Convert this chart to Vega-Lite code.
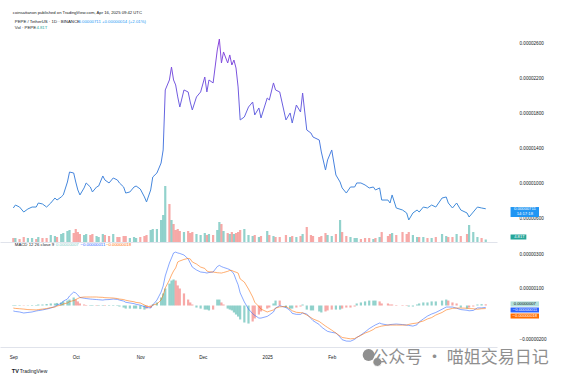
{
  "$schema": "https://vega.github.io/schema/vega-lite/v6.json",
  "padding": 0,
  "background": "white",
  "spacing": 0,
  "config": {
    "view": {"stroke": null},
    "font": "Liberation Sans",
    "axis": {"labelFontSize": 4.6, "labelColor": "#131722", "grid": false, "ticks": false, "labelOverlap": false},
    "axisY": {"labelOverlap": false},
    "axisRight": {"labelOverlap": false},
    "axisQuantitative": {"labelOverlap": false}
  },
  "datasets": {
    "pepe": [
      {"date":"2024-09-01","close":0.00000720,"vol_T":7.7,"candle":"down","macd":-0.00000032,"signal":-0.00000015,"hist":-0.00000003,"hist_state":"neg_down"},
      {"date":"2024-09-02","close":0.00000754,"vol_T":7.7,"candle":"up","macd":-0.00000035,"signal":-0.00000017,"hist":-0.00000003,"hist_state":"neg_down"},
      {"date":"2024-09-04","close":0.00000731,"vol_T":5.8,"candle":"down","macd":-0.00000038,"signal":-0.00000019,"hist":-0.00000003,"hist_state":"neg_down"},
      {"date":"2024-09-06","close":0.00000674,"vol_T":9.6,"candle":"down","macd":-0.00000044,"signal":-0.00000021,"hist":-0.00000002,"hist_state":"neg_up"},
      {"date":"2024-09-08","close":0.00000709,"vol_T":7.7,"candle":"up","macd":-0.00000041,"signal":-0.00000024,"hist":0.00000002,"hist_state":"pos_up"},
      {"date":"2024-09-10","close":0.00000731,"vol_T":7.7,"candle":"up","macd":-0.00000038,"signal":-0.00000025,"hist":0.00000003,"hist_state":"pos_up"},
      {"date":"2024-09-12","close":0.00000731,"vol_T":5.8,"candle":"down","macd":-0.00000032,"signal":-0.00000026,"hist":0.00000003,"hist_state":"pos_up"},
      {"date":"2024-09-13","close":0.00000777,"vol_T":9.6,"candle":"up","macd":-0.00000030,"signal":-0.00000024,"hist":0.00000006,"hist_state":"pos_up"},
      {"date":"2024-09-15","close":0.00000766,"vol_T":7.7,"candle":"down","macd":-0.00000026,"signal":-0.00000021,"hist":0.00000006,"hist_state":"pos_up"},
      {"date":"2024-09-17","close":0.00000731,"vol_T":7.7,"candle":"down","macd":-0.00000021,"signal":-0.00000018,"hist":0.00000009,"hist_state":"pos_up"},
      {"date":"2024-09-19","close":0.00000777,"vol_T":13.5,"candle":"up","macd":-0.00000015,"signal":-0.00000012,"hist":0.00000012,"hist_state":"pos_up"},
      {"date":"2024-09-21","close":0.00000834,"vol_T":11.5,"candle":"up","macd":-0.00000006,"signal":-0.00000009,"hist":0.00000012,"hist_state":"pos_up"},
      {"date":"2024-09-22","close":0.00000811,"vol_T":9.6,"candle":"down","macd":0.00000003,"signal":-0.00000003,"hist":0.00000015,"hist_state":"pos_up"},
      {"date":"2024-09-24","close":0.00000846,"vol_T":15.4,"candle":"up","macd":0.00000012,"signal":0.00000003,"hist":0.00000018,"hist_state":"pos_up"},
      {"date":"2024-09-25","close":0.00000869,"vol_T":17.3,"candle":"up","macd":0.00000026,"signal":0.00000009,"hist":0.00000024,"hist_state":"pos_up"},
      {"date":"2024-09-27","close":0.00001017,"vol_T":21.2,"candle":"up","macd":0.00000038,"signal":0.00000015,"hist":0.00000029,"hist_state":"pos_up"},
      {"date":"2024-09-28","close":0.00001131,"vol_T":23.1,"candle":"up","macd":0.00000056,"signal":0.00000023,"hist":0.00000035,"hist_state":"pos_up"},
      {"date":"2024-09-30","close":0.00001120,"vol_T":17.3,"candle":"down","macd":0.00000079,"signal":0.00000029,"hist":0.00000047,"hist_state":"pos_up"},
      {"date":"2024-10-01","close":0.00001017,"vol_T":25.0,"candle":"down","macd":0.00000074,"signal":0.00000035,"hist":0.00000035,"hist_state":"pos_down"},
      {"date":"2024-10-02","close":0.00000926,"vol_T":19.2,"candle":"down","macd":0.00000062,"signal":0.00000041,"hist":0.00000024,"hist_state":"pos_down"},
      {"date":"2024-10-03","close":0.00000869,"vol_T":15.4,"candle":"down","macd":0.00000047,"signal":0.00000047,"hist":0.00000012,"hist_state":"pos_down"},
      {"date":"2024-10-05","close":0.00000949,"vol_T":13.5,"candle":"up","macd":0.00000043,"signal":0.00000050,"hist":0.00000006,"hist_state":"pos_down"},
      {"date":"2024-10-06","close":0.00001006,"vol_T":15.4,"candle":"up","macd":0.00000041,"signal":0.00000050,"hist":0.00000003,"hist_state":"pos_down"},
      {"date":"2024-10-08","close":0.00000960,"vol_T":13.5,"candle":"down","macd":0.00000038,"signal":0.00000050,"hist":-0.00000003,"hist_state":"neg_down"},
      {"date":"2024-10-09","close":0.00000903,"vol_T":15.4,"candle":"down","macd":0.00000037,"signal":0.00000050,"hist":0.00000003,"hist_state":"pos_up"},
      {"date":"2024-10-11","close":0.00000960,"vol_T":11.5,"candle":"up","macd":0.00000035,"signal":0.00000050,"hist":0.00000003,"hist_state":"pos_down"},
      {"date":"2024-10-12","close":0.00000971,"vol_T":9.6,"candle":"up","macd":0.00000034,"signal":0.00000049,"hist":-0.00000003,"hist_state":"neg_down"},
      {"date":"2024-10-14","close":0.00001086,"vol_T":15.4,"candle":"up","macd":0.00000032,"signal":0.00000048,"hist":0.00000003,"hist_state":"pos_up"},
      {"date":"2024-10-15","close":0.00001040,"vol_T":13.5,"candle":"down","macd":0.00000034,"signal":0.00000046,"hist":0.00000003,"hist_state":"pos_down"},
      {"date":"2024-10-17","close":0.00001006,"vol_T":11.5,"candle":"down","macd":0.00000035,"signal":0.00000045,"hist":-0.00000003,"hist_state":"neg_down"},
      {"date":"2024-10-19","close":0.00001063,"vol_T":15.4,"candle":"up","macd":0.00000038,"signal":0.00000044,"hist":0.00000003,"hist_state":"pos_up"},
      {"date":"2024-10-21","close":0.00001040,"vol_T":9.6,"candle":"down","macd":0.00000036,"signal":0.00000041,"hist":-0.00000003,"hist_state":"neg_down"},
      {"date":"2024-10-22","close":0.00001006,"vol_T":9.6,"candle":"down","macd":0.00000032,"signal":0.00000038,"hist":-0.00000006,"hist_state":"neg_down"},
      {"date":"2024-10-24","close":0.00000960,"vol_T":11.5,"candle":"down","macd":0.00000026,"signal":0.00000035,"hist":-0.00000012,"hist_state":"neg_down"},
      {"date":"2024-10-25","close":0.00000891,"vol_T":11.5,"candle":"down","macd":0.00000019,"signal":0.00000031,"hist":-0.00000018,"hist_state":"neg_down"},
      {"date":"2024-10-27","close":0.00000903,"vol_T":7.7,"candle":"up","macd":0.00000015,"signal":0.00000026,"hist":-0.00000018,"hist_state":"neg_down"},
      {"date":"2024-10-29","close":0.00000960,"vol_T":9.6,"candle":"up","macd":0.00000011,"signal":0.00000022,"hist":-0.00000018,"hist_state":"neg_down"},
      {"date":"2024-10-30","close":0.00000971,"vol_T":7.7,"candle":"up","macd":0.00000007,"signal":0.00000018,"hist":-0.00000018,"hist_state":"neg_down"},
      {"date":"2024-11-01","close":0.00000937,"vol_T":9.6,"candle":"down","macd":0.00000002,"signal":0.00000015,"hist":-0.00000021,"hist_state":"neg_down"},
      {"date":"2024-11-03","close":0.00000846,"vol_T":11.5,"candle":"down","macd":-0.00000007,"signal":0.00000003,"hist":-0.00000024,"hist_state":"neg_down"},
      {"date":"2024-11-04","close":0.00000789,"vol_T":13.5,"candle":"down","macd":-0.00000011,"signal":-0.00000003,"hist":-0.00000018,"hist_state":"neg_up"},
      {"date":"2024-11-06","close":0.00000926,"vol_T":23.1,"candle":"up","macd":-0.00000015,"signal":-0.00000009,"hist":-0.00000012,"hist_state":"neg_up"},
      {"date":"2024-11-07","close":0.00001074,"vol_T":25.0,"candle":"up","macd":0.00000003,"signal":0.00000003,"hist":0.00000006,"hist_state":"pos_up"},
      {"date":"2024-11-09","close":0.00001120,"vol_T":25.0,"candle":"up","macd":0.00000032,"signal":0.00000009,"hist":0.00000018,"hist_state":"pos_up"},
      {"date":"2024-11-11","close":0.00001234,"vol_T":42.3,"candle":"up","macd":0.00000079,"signal":0.00000032,"hist":0.00000047,"hist_state":"pos_up"},
      {"date":"2024-11-12","close":0.00001383,"vol_T":51.9,"candle":"up","macd":0.00000115,"signal":0.00000062,"hist":0.00000071,"hist_state":"pos_up"},
      {"date":"2024-11-13","close":0.00002069,"vol_T":107.7,"candle":"up","macd":0.00000174,"signal":0.00000103,"hist":0.00000100,"hist_state":"pos_up"},
      {"date":"2024-11-15","close":0.00002183,"vol_T":73.1,"candle":"down","macd":0.00000250,"signal":0.00000150,"hist":0.00000129,"hist_state":"pos_up"},
      {"date":"2024-11-16","close":0.00002331,"vol_T":42.3,"candle":"up","macd":0.00000279,"signal":0.00000179,"hist":0.00000147,"hist_state":"pos_up"},
      {"date":"2024-11-17","close":0.00002183,"vol_T":34.6,"candle":"down","macd":0.00000309,"signal":0.00000203,"hist":0.00000153,"hist_state":"pos_up"},
      {"date":"2024-11-18","close":0.00002126,"vol_T":23.1,"candle":"down","macd":0.00000314,"signal":0.00000221,"hist":0.00000147,"hist_state":"pos_down"},
      {"date":"2024-11-19","close":0.00001989,"vol_T":25.0,"candle":"down","macd":0.00000309,"signal":0.00000256,"hist":0.00000118,"hist_state":"pos_down"},
      {"date":"2024-11-20","close":0.00001874,"vol_T":21.2,"candle":"down","macd":0.00000306,"signal":0.00000262,"hist":0.00000100,"hist_state":"pos_down"},
      {"date":"2024-11-22","close":0.00002069,"vol_T":19.2,"candle":"up","macd":0.00000297,"signal":0.00000271,"hist":0.00000071,"hist_state":"pos_down"},
      {"date":"2024-11-24","close":0.00002046,"vol_T":21.2,"candle":"down","macd":0.00000274,"signal":0.00000277,"hist":0.00000035,"hist_state":"pos_down"},
      {"date":"2024-11-25","close":0.00001931,"vol_T":17.3,"candle":"down","macd":0.00000250,"signal":0.00000274,"hist":0.00000018,"hist_state":"pos_down"},
      {"date":"2024-11-26","close":0.00001840,"vol_T":19.2,"candle":"down","macd":0.00000226,"signal":0.00000256,"hist":0.00000006,"hist_state":"pos_down"},
      {"date":"2024-11-28","close":0.00001989,"vol_T":15.4,"candle":"up","macd":0.00000209,"signal":0.00000244,"hist":-0.00000012,"hist_state":"neg_down"},
      {"date":"2024-11-30","close":0.00002046,"vol_T":13.5,"candle":"up","macd":0.00000197,"signal":0.00000226,"hist":-0.00000018,"hist_state":"neg_down"},
      {"date":"2024-12-02","close":0.00002217,"vol_T":17.3,"candle":"up","macd":0.00000194,"signal":0.00000218,"hist":-0.00000024,"hist_state":"neg_down"},
      {"date":"2024-12-03","close":0.00002046,"vol_T":13.5,"candle":"down","macd":0.00000191,"signal":0.00000203,"hist":-0.00000024,"hist_state":"neg_down"},
      {"date":"2024-12-04","close":0.00002183,"vol_T":15.4,"candle":"up","macd":0.00000194,"signal":0.00000198,"hist":-0.00000029,"hist_state":"neg_down"},
      {"date":"2024-12-06","close":0.00002149,"vol_T":13.5,"candle":"down","macd":0.00000197,"signal":0.00000197,"hist":-0.00000024,"hist_state":"neg_up"},
      {"date":"2024-12-08","close":0.00002526,"vol_T":23.1,"candle":"up","macd":0.00000229,"signal":0.00000193,"hist":0.00000035,"hist_state":"pos_up"},
      {"date":"2024-12-09","close":0.00002651,"vol_T":38.5,"candle":"up","macd":0.00000236,"signal":0.00000192,"hist":0.00000035,"hist_state":"pos_up"},
      {"date":"2024-12-10","close":0.00002377,"vol_T":34.6,"candle":"down","macd":0.00000229,"signal":0.00000191,"hist":0.00000018,"hist_state":"pos_down"},
      {"date":"2024-12-11","close":0.00002503,"vol_T":21.2,"candle":"up","macd":0.00000224,"signal":0.00000194,"hist":0.00000006,"hist_state":"pos_down"},
      {"date":"2024-12-13","close":0.00002377,"vol_T":17.3,"candle":"down","macd":0.00000216,"signal":0.00000201,"hist":-0.00000018,"hist_state":"neg_down"},
      {"date":"2024-12-14","close":0.00002469,"vol_T":15.4,"candle":"up","macd":0.00000211,"signal":0.00000206,"hist":-0.00000024,"hist_state":"neg_down"},
      {"date":"2024-12-15","close":0.00002354,"vol_T":19.2,"candle":"down","macd":0.00000201,"signal":0.00000206,"hist":-0.00000029,"hist_state":"neg_down"},
      {"date":"2024-12-16","close":0.00002411,"vol_T":15.4,"candle":"up","macd":0.00000185,"signal":0.00000200,"hist":-0.00000041,"hist_state":"neg_down"},
      {"date":"2024-12-17","close":0.00002320,"vol_T":17.3,"candle":"down","macd":0.00000152,"signal":0.00000196,"hist":-0.00000053,"hist_state":"neg_down"},
      {"date":"2024-12-18","close":0.00002103,"vol_T":19.2,"candle":"down","macd":0.00000122,"signal":0.00000191,"hist":-0.00000065,"hist_state":"neg_down"},
      {"date":"2024-12-19","close":0.00001726,"vol_T":23.1,"candle":"down","macd":0.00000074,"signal":0.00000156,"hist":-0.00000082,"hist_state":"neg_down"},
      {"date":"2024-12-21","close":0.00001760,"vol_T":25.0,"candle":"up","macd":0.00000021,"signal":0.00000138,"hist":-0.00000100,"hist_state":"neg_down"},
      {"date":"2024-12-23","close":0.00001874,"vol_T":13.5,"candle":"up","macd":-0.00000021,"signal":0.00000097,"hist":-0.00000106,"hist_state":"neg_down"},
      {"date":"2024-12-25","close":0.00001931,"vol_T":11.5,"candle":"up","macd":-0.00000048,"signal":0.00000050,"hist":-0.00000094,"hist_state":"neg_up"},
      {"date":"2024-12-26","close":0.00001783,"vol_T":13.5,"candle":"down","macd":-0.00000058,"signal":0.00000019,"hist":-0.00000076,"hist_state":"neg_up"},
      {"date":"2024-12-28","close":0.00001863,"vol_T":9.6,"candle":"up","macd":-0.00000074,"signal":-0.00000006,"hist":-0.00000053,"hist_state":"neg_up"},
      {"date":"2024-12-29","close":0.00001749,"vol_T":11.5,"candle":"down","macd":-0.00000074,"signal":-0.00000021,"hist":-0.00000035,"hist_state":"neg_up"},
      {"date":"2025-01-01","close":0.00001977,"vol_T":21.2,"candle":"up","macd":-0.00000064,"signal":-0.00000038,"hist":-0.00000018,"hist_state":"neg_up"},
      {"date":"2025-01-02","close":0.00001954,"vol_T":13.5,"candle":"down","macd":-0.00000056,"signal":-0.00000034,"hist":-0.00000012,"hist_state":"neg_up"},
      {"date":"2025-01-04","close":0.00002149,"vol_T":11.5,"candle":"up","macd":-0.00000038,"signal":-0.00000026,"hist":0.00000012,"hist_state":"pos_up"},
      {"date":"2025-01-05","close":0.00002069,"vol_T":9.6,"candle":"down","macd":-0.00000015,"signal":-0.00000016,"hist":0.00000029,"hist_state":"pos_up"},
      {"date":"2025-01-07","close":0.00002046,"vol_T":9.6,"candle":"down","macd":-0.00000001,"signal":-0.00000008,"hist":0.00000029,"hist_state":"pos_down"},
      {"date":"2025-01-10","close":0.00001726,"vol_T":13.5,"candle":"down","macd":-0.00000012,"signal":-0.00000006,"hist":-0.00000012,"hist_state":"neg_down"},
      {"date":"2025-01-12","close":0.00001806,"vol_T":9.6,"candle":"up","macd":-0.00000029,"signal":-0.00000021,"hist":-0.00000018,"hist_state":"neg_down"},
      {"date":"2025-01-13","close":0.00001691,"vol_T":11.5,"candle":"down","macd":-0.00000046,"signal":-0.00000031,"hist":-0.00000018,"hist_state":"neg_down"},
      {"date":"2025-01-15","close":0.00001897,"vol_T":9.6,"candle":"up","macd":-0.00000052,"signal":-0.00000040,"hist":-0.00000012,"hist_state":"neg_up"},
      {"date":"2025-01-17","close":0.00001817,"vol_T":11.5,"candle":"down","macd":-0.00000052,"signal":-0.00000042,"hist":-0.00000006,"hist_state":"neg_up"},
      {"date":"2025-01-18","close":0.00002034,"vol_T":15.4,"candle":"up","macd":-0.00000044,"signal":-0.00000043,"hist":0.00000006,"hist_state":"pos_up"},
      {"date":"2025-01-20","close":0.00001611,"vol_T":28.9,"candle":"down","macd":-0.00000050,"signal":-0.00000056,"hist":-0.00000024,"hist_state":"neg_down"},
      {"date":"2025-01-22","close":0.00001577,"vol_T":13.5,"candle":"down","macd":-0.00000076,"signal":-0.00000071,"hist":-0.00000029,"hist_state":"neg_down"},
      {"date":"2025-01-23","close":0.00001531,"vol_T":11.5,"candle":"down","macd":-0.00000089,"signal":-0.00000079,"hist":-0.00000029,"hist_state":"neg_down"},
      {"date":"2025-01-26","close":0.00001497,"vol_T":9.6,"candle":"down","macd":-0.00000112,"signal":-0.00000094,"hist":-0.00000035,"hist_state":"neg_down"},
      {"date":"2025-01-27","close":0.00001360,"vol_T":11.5,"candle":"down","macd":-0.00000126,"signal":-0.00000103,"hist":-0.00000041,"hist_state":"neg_down"},
      {"date":"2025-01-29","close":0.00001154,"vol_T":17.3,"candle":"down","macd":-0.00000144,"signal":-0.00000121,"hist":-0.00000035,"hist_state":"neg_up"},
      {"date":"2025-01-30","close":0.00001269,"vol_T":13.5,"candle":"up","macd":-0.00000152,"signal":-0.00000129,"hist":-0.00000029,"hist_state":"neg_up"},
      {"date":"2025-02-01","close":0.00001383,"vol_T":11.5,"candle":"up","macd":-0.00000158,"signal":-0.00000145,"hist":-0.00000024,"hist_state":"neg_up"},
      {"date":"2025-02-03","close":0.00001097,"vol_T":15.4,"candle":"down","macd":-0.00000162,"signal":-0.00000162,"hist":-0.00000024,"hist_state":"neg_down"},
      {"date":"2025-02-05","close":0.00001017,"vol_T":42.3,"candle":"up","macd":-0.00000186,"signal":-0.00000179,"hist":-0.00000024,"hist_state":"neg_down"},
      {"date":"2025-02-06","close":0.00000949,"vol_T":19.2,"candle":"down","macd":-0.00000201,"signal":-0.00000188,"hist":-0.00000018,"hist_state":"neg_up"},
      {"date":"2025-02-08","close":0.00000891,"vol_T":11.5,"candle":"down","macd":-0.00000209,"signal":-0.00000192,"hist":-0.00000012,"hist_state":"neg_up"},
      {"date":"2025-02-10","close":0.00000960,"vol_T":9.6,"candle":"up","macd":-0.00000210,"signal":-0.00000196,"hist":-0.00000012,"hist_state":"neg_up"},
      {"date":"2025-02-12","close":0.00000960,"vol_T":7.7,"candle":"up","macd":-0.00000199,"signal":-0.00000194,"hist":-0.00000006,"hist_state":"neg_up"},
      {"date":"2025-02-13","close":0.00001006,"vol_T":7.7,"candle":"up","macd":-0.00000189,"signal":-0.00000187,"hist":0.00000012,"hist_state":"pos_up"},
      {"date":"2025-02-15","close":0.00001006,"vol_T":5.8,"candle":"down","macd":-0.00000173,"signal":-0.00000176,"hist":0.00000018,"hist_state":"pos_up"},
      {"date":"2025-02-17","close":0.00000983,"vol_T":7.7,"candle":"down","macd":-0.00000156,"signal":-0.00000162,"hist":0.00000024,"hist_state":"pos_up"},
      {"date":"2025-02-19","close":0.00000949,"vol_T":7.7,"candle":"down","macd":-0.00000136,"signal":-0.00000153,"hist":0.00000029,"hist_state":"pos_up"},
      {"date":"2025-02-21","close":0.00000960,"vol_T":5.8,"candle":"up","macd":-0.00000121,"signal":-0.00000141,"hist":0.00000029,"hist_state":"pos_up"},
      {"date":"2025-02-22","close":0.00000926,"vol_T":7.7,"candle":"down","macd":-0.00000114,"signal":-0.00000132,"hist":0.00000029,"hist_state":"pos_up"},
      {"date":"2025-02-24","close":0.00000949,"vol_T":9.6,"candle":"up","macd":-0.00000103,"signal":-0.00000124,"hist":0.00000024,"hist_state":"pos_down"},
      {"date":"2025-02-25","close":0.00000811,"vol_T":19.2,"candle":"down","macd":-0.00000108,"signal":-0.00000121,"hist":0.00000012,"hist_state":"pos_down"},
      {"date":"2025-02-28","close":0.00000811,"vol_T":11.5,"candle":"down","macd":-0.00000115,"signal":-0.00000115,"hist":0.00000012,"hist_state":"pos_down"},
      {"date":"2025-03-01","close":0.00000777,"vol_T":15.4,"candle":"down","macd":-0.00000112,"signal":-0.00000115,"hist":0.00000006,"hist_state":"pos_down"},
      {"date":"2025-03-02","close":0.00000869,"vol_T":17.3,"candle":"up","macd":-0.00000111,"signal":-0.00000115,"hist":0.00000006,"hist_state":"pos_down"},
      {"date":"2025-03-04","close":0.00000720,"vol_T":13.5,"candle":"down","macd":-0.00000109,"signal":-0.00000115,"hist":0.00000003,"hist_state":"pos_down"},
      {"date":"2025-03-07","close":0.00000697,"vol_T":19.2,"candle":"down","macd":-0.00000112,"signal":-0.00000115,"hist":0.00000003,"hist_state":"pos_down"},
      {"date":"2025-03-09","close":0.00000663,"vol_T":15.4,"candle":"down","macd":-0.00000115,"signal":-0.00000115,"hist":0.00000003,"hist_state":"pos_down"},
      {"date":"2025-03-10","close":0.00000583,"vol_T":19.2,"candle":"down","macd":-0.00000117,"signal":-0.00000111,"hist":-0.00000006,"hist_state":"neg_down"},
      {"date":"2025-03-12","close":0.00000663,"vol_T":13.5,"candle":"up","macd":-0.00000121,"signal":-0.00000106,"hist":-0.00000006,"hist_state":"neg_down"},
      {"date":"2025-03-14","close":0.00000697,"vol_T":9.6,"candle":"up","macd":-0.00000113,"signal":-0.00000103,"hist":0.00000006,"hist_state":"pos_up"},
      {"date":"2025-03-15","close":0.00000674,"vol_T":9.6,"candle":"down","macd":-0.00000097,"signal":-0.00000098,"hist":0.00000012,"hist_state":"pos_up"},
      {"date":"2025-03-17","close":0.00000731,"vol_T":9.6,"candle":"up","macd":-0.00000079,"signal":-0.00000091,"hist":0.00000018,"hist_state":"pos_up"},
      {"date":"2025-03-19","close":0.00000720,"vol_T":7.7,"candle":"down","macd":-0.00000062,"signal":-0.00000079,"hist":0.00000018,"hist_state":"pos_up"},
      {"date":"2025-03-21","close":0.00000754,"vol_T":7.7,"candle":"up","macd":-0.00000050,"signal":-0.00000071,"hist":0.00000024,"hist_state":"pos_up"},
      {"date":"2025-03-23","close":0.00000731,"vol_T":9.6,"candle":"down","macd":-0.00000041,"signal":-0.00000056,"hist":0.00000024,"hist_state":"pos_up"},
      {"date":"2025-03-26","close":0.00000834,"vol_T":15.4,"candle":"up","macd":-0.00000022,"signal":-0.00000041,"hist":0.00000029,"hist_state":"pos_up"},
      {"date":"2025-03-28","close":0.00000846,"vol_T":11.5,"candle":"up","macd":-0.00000009,"signal":-0.00000026,"hist":0.00000035,"hist_state":"pos_up"},
      {"date":"2025-03-29","close":0.00000777,"vol_T":9.6,"candle":"down","macd":-0.00000009,"signal":-0.00000023,"hist":0.00000029,"hist_state":"pos_down"},
      {"date":"2025-03-31","close":0.00000720,"vol_T":9.6,"candle":"down","macd":-0.00000009,"signal":-0.00000017,"hist":0.00000018,"hist_state":"pos_down"},
      {"date":"2025-04-02","close":0.00000777,"vol_T":15.4,"candle":"up","macd":-0.00000016,"signal":-0.00000015,"hist":0.00000012,"hist_state":"pos_down"},
      {"date":"2025-04-04","close":0.00000697,"vol_T":11.5,"candle":"down","macd":-0.00000024,"signal":-0.00000015,"hist":-0.00000012,"hist_state":"neg_down"},
      {"date":"2025-04-07","close":0.00000663,"vol_T":15.4,"candle":"down","macd":-0.00000028,"signal":-0.00000016,"hist":-0.00000018,"hist_state":"neg_down"},
      {"date":"2025-04-08","close":0.00000617,"vol_T":32.7,"candle":"up","macd":-0.00000031,"signal":-0.00000018,"hist":-0.00000012,"hist_state":"neg_up"},
      {"date":"2025-04-10","close":0.00000674,"vol_T":19.2,"candle":"up","macd":-0.00000029,"signal":-0.00000019,"hist":-0.00000006,"hist_state":"neg_up"},
      {"date":"2025-04-12","close":0.00000731,"vol_T":9.6,"candle":"up","macd":-0.00000014,"signal":-0.00000022,"hist":0.00000006,"hist_state":"pos_up"},
      {"date":"2025-04-14","close":0.00000720,"vol_T":7.7,"candle":"down","macd":-0.00000014,"signal":-0.00000019,"hist":0.00000008,"hist_state":"pos_up"},
      {"date":"2025-04-16","close":0.00000711,"vol_T":4.81,"candle":"up","macd":-0.00000011,"signal":-0.00000018,"hist":0.00000007,"hist_state":"pos_down"}
    ]
  },
  "vconcat": [
    {
      "width": 497,
      "height": 242,
      "data": {"name": "pepe"},
      "layer": [
        {
          "mark": {"type": "bar", "size": 2.2},
          "encoding": {
            "x": {"field": "date", "type": "temporal", "title": null,
              "scale": {"type": "utc", "domain": [{"year": 2024, "month": 8, "date": 28, "utc": true}, {"year": 2025, "month": 4, "date": 19, "utc": true}]},
              "axis": {"labels": false, "ticks": false, "grid": false, "domain": true, "domainColor": "#e0e3eb", "title": null}},
            "y": {"field": "vol_T", "type": "quantitative", "scale": {"domain": [0, 465.6], "nice": false}, "axis": null, "title": null},
            "color": {"field": "candle", "type": "nominal", "scale": {"domain": ["up", "down"], "range": ["rgba(38,166,154,0.5)", "rgba(239,83,80,0.5)"]}, "legend": null}
          }
        },
        {
          "layer": [
            {
              "mark": {"type": "line", "strokeWidth": 1,
                "color": {"gradient": "linear", "x1": 0, "y1": 1, "x2": 0, "y2": 0,
                  "stops": [{"offset": 0, "color": "#3f8ed8"}, {"offset": 0.4, "color": "#4a7ee0"}, {"offset": 0.62, "color": "#6a60e0"}, {"offset": 1, "color": "#8c45dc"}]}},
              "encoding": {
                "x": {"field": "date", "type": "temporal", "title": null},
                "y": {"field": "close", "type": "quantitative", "title": null,
                  "scale": {"domain": [0.000003314, 0.00003097], "zero": false, "nice": false},
                  "axis": {"orient": "right", "title": null, "format": ".8f", "ticks": false, "domain": false, "grid": false, "labelPadding": 22, "labelOverlap": "greedy", "labelSeparation": -30, "labelFontSize": 4.6,
                    "values": [0.000006, 0.000008, 0.00001, 0.000012, 0.000014, 0.000016, 0.000018, 0.00002, 0.000022, 0.000024, 0.000026, 0.000028]}}
              }
            },
            {
              "data": {"values": [{}]},
              "mark": {"type": "text", "align": "left", "baseline": "middle", "fontSize": 4.2, "color": "#131722", "text": "coinsattanon published on TradingView.com, Apr 16, 2025 09:42 UTC"},
              "encoding": {"x": {"datum": {"year": 2024, "month": 8, "date": 31, "hours": 18, "utc": true}, "type": "temporal", "title": null}, "y": {"datum": 0.00002949, "type": "quantitative", "title": null}}
            },
            {
              "data": {"values": [{}]},
              "mark": {"type": "text", "align": "left", "baseline": "middle", "fontSize": 4.3, "color": "#131722", "text": "PEPE / TetherUS · 1D · BINANCE"},
              "encoding": {"x": {"datum": {"year": 2024, "month": 9, "date": 1, "hours": 17, "utc": true}, "type": "temporal", "title": null}, "y": {"datum": 0.00002846, "type": "quantitative", "title": null}}
            },
            {
              "data": {"values": [{}]},
              "mark": {"type": "text", "align": "left", "baseline": "middle", "fontSize": 4.3, "color": "#2196f3", "text": "0.00000711  +0.00000014 (+2.01%)"},
              "encoding": {"x": {"datum": {"year": 2024, "month": 10, "date": 2, "hours": 7, "utc": true}, "type": "temporal", "title": null}, "y": {"datum": 0.00002846, "type": "quantitative", "title": null}}
            },
            {
              "data": {"values": [{}]},
              "mark": {"type": "text", "align": "left", "baseline": "middle", "fontSize": 4.3, "color": "#131722", "text": "Vol · PEPE"},
              "encoding": {"x": {"datum": {"year": 2024, "month": 9, "date": 1, "hours": 17, "utc": true}, "type": "temporal", "title": null}, "y": {"datum": 0.00002777, "type": "quantitative", "title": null}}
            },
            {
              "data": {"values": [{}]},
              "mark": {"type": "text", "align": "left", "baseline": "middle", "fontSize": 4.3, "color": "#26a69a", "text": "4.81T"},
              "encoding": {"x": {"datum": {"year": 2024, "month": 9, "date": 12, "hours": 2, "utc": true}, "type": "temporal", "title": null}, "y": {"datum": 0.00002777, "type": "quantitative", "title": null}}
            },
            {
              "data": {"values": [{}]},
              "mark": {"type": "rect", "color": "#2196f3"},
              "encoding": {
                "x": {"datum": {"year": 2025, "month": 4, "date": 27, "hours": 22, "utc": true}, "type": "temporal", "title": null},
                "x2": {"datum": {"year": 2025, "month": 5, "date": 11, "hours": 14, "utc": true}},
                "y": {"datum": 0.00000731, "type": "quantitative", "title": null},
                "y2": {"datum": 0.00000617}
              }
            },
            {
              "data": {"values": [{}]},
              "mark": {"type": "text", "align": "center", "baseline": "middle", "fontSize": 4.2, "color": "white", "text": "0.00000711"},
              "encoding": {"x": {"datum": {"year": 2025, "month": 5, "date": 4, "hours": 19, "utc": true}, "type": "temporal", "title": null}, "y": {"datum": 0.00000703, "type": "quantitative", "title": null}}
            },
            {
              "data": {"values": [{}]},
              "mark": {"type": "text", "align": "center", "baseline": "middle", "fontSize": 4.2, "color": "white", "text": "14:17:18"},
              "encoding": {"x": {"datum": {"year": 2025, "month": 5, "date": 4, "hours": 19, "utc": true}, "type": "temporal", "title": null}, "y": {"datum": 0.00000646, "type": "quantitative", "title": null}}
            },
            {
              "data": {"values": [{}]},
              "mark": {"type": "rect", "color": "#26a69a"},
              "encoding": {
                "x": {"datum": {"year": 2025, "month": 4, "date": 27, "hours": 22, "utc": true}, "type": "temporal", "title": null},
                "x2": {"datum": {"year": 2025, "month": 5, "date": 5, "hours": 12, "utc": true}},
                "y": {"datum": 0.000004171, "type": "quantitative", "title": null},
                "y2": {"datum": 0.0000036}
              }
            },
            {
              "data": {"values": [{}]},
              "mark": {"type": "text", "align": "center", "baseline": "middle", "fontSize": 4.2, "color": "white", "text": "4.81T"},
              "encoding": {"x": {"datum": {"year": 2025, "month": 5, "date": 2, "hours": 5, "utc": true}, "type": "temporal", "title": null}, "y": {"datum": 0.000003886, "type": "quantitative", "title": null}}
            }
          ]
        }
      ],
      "resolve": {"scale": {"y": "independent"}}
    },
    {
      "width": 497,
      "height": 105,
      "data": {"name": "pepe"},
      "layer": [
        {
          "mark": {"type": "bar", "size": 2.2},
          "encoding": {
            "x": {"field": "date", "type": "temporal", "title": null,
              "scale": {"type": "utc", "domain": [{"year": 2024, "month": 8, "date": 28, "utc": true}, {"year": 2025, "month": 4, "date": 19, "utc": true}]},
              "axis": {"title": null, "ticks": false, "grid": false, "domain": true, "domainColor": "#e0e3eb", "labelPadding": 7.5, "labelFontSize": 4.6,
                "values": [{"year": 2024, "month": 9, "date": 1, "utc": true}, {"year": 2024, "month": 10, "date": 1, "utc": true}, {"year": 2024, "month": 11, "date": 1, "utc": true}, {"year": 2024, "month": 12, "date": 1, "utc": true}, {"year": 2025, "month": 1, "date": 1, "utc": true}, {"year": 2025, "month": 2, "date": 1, "utc": true}],
                "labelExpr": "utcmonth(datum.value) == 0 ? utcFormat(datum.value, '%Y') : utcFormat(datum.value, '%b')"}},
            "y": {"field": "hist", "type": "quantitative", "title": null,
              "scale": {"domain": [-0.00000244, 0.000003735], "zero": false, "nice": false},
              "axis": {"orient": "right", "title": null, "format": ".8f", "ticks": false, "domain": false, "grid": false, "labelPadding": 22, "labelOverlap": false, "labelFontSize": 4.6,
                "values": [-0.000002, -0.000001, 0.000001, 0.000002, 0.000003]}},
            "y2": {"datum": 0},
            "color": {"field": "hist_state", "type": "nominal", "scale": {"domain": ["pos_up", "pos_down", "neg_down", "neg_up"], "range": ["#26a69a", "#b2dfdb", "#ff5252", "#ffcdd2"]}, "legend": null}
          }
        },
        {
          "mark": {"type": "line", "strokeWidth": 0.8, "color": "#2962ff", "opacity": 0.7},
          "encoding": {"x": {"field": "date", "type": "temporal", "title": null}, "y": {"field": "macd", "type": "quantitative", "title": null}}
        },
        {
          "mark": {"type": "line", "strokeWidth": 0.8, "color": "#ff6d00", "opacity": 0.7},
          "encoding": {"x": {"field": "date", "type": "temporal", "title": null}, "y": {"field": "signal", "type": "quantitative", "title": null}}
        },
        {
          "data": {"values": [{}]},
          "mark": {"type": "text", "align": "left", "baseline": "middle", "fontSize": 4.3, "color": "#131722", "text": "MACD 12 26 close 9"},
          "encoding": {"x": {"datum": {"year": 2024, "month": 9, "date": 1, "hours": 17, "utc": true}, "type": "temporal", "title": null}, "y": {"datum": 0.00000356, "type": "quantitative", "title": null}}
        },
        {
          "data": {"values": [{}]},
          "mark": {"type": "text", "align": "left", "baseline": "middle", "fontSize": 4.3, "color": "#80cbc4", "text": "0.00000007"},
          "encoding": {"x": {"datum": {"year": 2024, "month": 9, "date": 21, "hours": 12, "utc": true}, "type": "temporal", "title": null}, "y": {"datum": 0.00000356, "type": "quantitative", "title": null}}
        },
        {
          "data": {"values": [{}]},
          "mark": {"type": "text", "align": "left", "baseline": "middle", "fontSize": 4.3, "color": "#2962ff", "text": "−0.00000011"},
          "encoding": {"x": {"datum": {"year": 2024, "month": 10, "date": 3, "hours": 6, "utc": true}, "type": "temporal", "title": null}, "y": {"datum": 0.00000356, "type": "quantitative", "title": null}}
        },
        {
          "data": {"values": [{}]},
          "mark": {"type": "text", "align": "left", "baseline": "middle", "fontSize": 4.3, "color": "#ff6d00", "text": "−0.00000018"},
          "encoding": {"x": {"datum": {"year": 2024, "month": 10, "date": 15, "hours": 12, "utc": true}, "type": "temporal", "title": null}, "y": {"datum": 0.00000356, "type": "quantitative", "title": null}}
        },
        {
          "data": {"values": [{}]},
          "mark": {"type": "rect", "color": "#b2dfdb"},
          "encoding": {
            "x": {"datum": {"year": 2025, "month": 4, "date": 27, "hours": 22, "utc": true}, "type": "temporal", "title": null},
            "x2": {"datum": {"year": 2025, "month": 5, "date": 11, "hours": 14, "utc": true}},
            "y": {"datum": 0.00000024, "type": "quantitative", "title": null},
            "y2": {"datum": -0.00000006}
          }
        },
        {
          "data": {"values": [{}]},
          "mark": {"type": "rect", "color": "#2962ff"},
          "encoding": {
            "x": {"datum": {"year": 2025, "month": 4, "date": 27, "hours": 22, "utc": true}, "type": "temporal", "title": null},
            "x2": {"datum": {"year": 2025, "month": 5, "date": 11, "hours": 14, "utc": true}},
            "y": {"datum": -0.000000118, "type": "quantitative", "title": null},
            "y2": {"datum": -0.00000041}
          }
        },
        {
          "data": {"values": [{}]},
          "mark": {"type": "rect", "color": "#ff6d00"},
          "encoding": {
            "x": {"datum": {"year": 2025, "month": 4, "date": 27, "hours": 22, "utc": true}, "type": "temporal", "title": null},
            "x2": {"datum": {"year": 2025, "month": 5, "date": 11, "hours": 14, "utc": true}},
            "y": {"datum": -0.00000047, "type": "quantitative", "title": null},
            "y2": {"datum": -0.000000765}
          }
        },
        {
          "data": {"values": [{}]},
          "mark": {"type": "text", "align": "center", "baseline": "middle", "fontSize": 4.2, "color": "#131722", "text": "0.00000007"},
          "encoding": {"x": {"datum": {"year": 2025, "month": 5, "date": 4, "hours": 19, "utc": true}, "type": "temporal", "title": null}, "y": {"datum": 0.000000088, "type": "quantitative", "title": null}}
        },
        {
          "data": {"values": [{}]},
          "mark": {"type": "text", "align": "center", "baseline": "middle", "fontSize": 4.2, "color": "white", "text": "−0.00000011"},
          "encoding": {"x": {"datum": {"year": 2025, "month": 5, "date": 4, "hours": 19, "utc": true}, "type": "temporal", "title": null}, "y": {"datum": -0.000000265, "type": "quantitative", "title": null}}
        },
        {
          "data": {"values": [{}]},
          "mark": {"type": "text", "align": "center", "baseline": "middle", "fontSize": 4.2, "color": "white", "text": "−0.00000018"},
          "encoding": {"x": {"datum": {"year": 2025, "month": 5, "date": 4, "hours": 19, "utc": true}, "type": "temporal", "title": null}, "y": {"datum": -0.00000062, "type": "quantitative", "title": null}}
        },
        {
          "data": {"values": [{}]},
          "mark": {"type": "point", "shape": "circle", "filled": true, "size": 140, "color": "#8f8f8f", "opacity": 1},
          "encoding": {"x": {"datum": {"year": 2025, "month": 2, "date": 18, "hours": 17, "utc": true}, "type": "temporal", "title": null}, "y": {"datum": -0.00000291, "type": "quantitative", "title": null}}
        },
        {
          "data": {"values": [{}]},
          "mark": {"type": "point", "shape": "circle", "filled": true, "size": 80, "fill": "#8f8f8f", "stroke": "white", "strokeWidth": 1, "opacity": 1},
          "encoding": {"x": {"datum": {"year": 2025, "month": 2, "date": 22, "hours": 22, "utc": true}, "type": "temporal", "title": null}, "y": {"datum": -0.00000332, "type": "quantitative", "title": null}}
        },
        {
          "data": {"values": [{}]},
          "mark": {"type": "text", "align": "right", "baseline": "middle", "fontSize": 17, "font": "Noto Sans CJK SC", "color": "#8f8f8f", "text": "公众号 · 喵姐交易日记"},
          "encoding": {"x": {"datum": {"year": 2025, "month": 5, "date": 16, "hours": 7, "utc": true}, "type": "temporal", "title": null}, "y": {"datum": -0.00000309, "type": "quantitative", "title": null}}
        },
        {
          "data": {"values": [{}]},
          "mark": {"type": "text", "align": "left", "baseline": "middle", "fontSize": 5.5, "fontWeight": 900, "color": "#131722", "text": "TV"},
          "encoding": {"x": {"datum": {"year": 2024, "month": 8, "date": 31, "hours": 7, "utc": true}, "type": "temporal", "title": null}, "y": {"datum": -0.00000385, "type": "quantitative", "title": null}}
        },
        {
          "data": {"values": [{}]},
          "mark": {"type": "text", "align": "left", "baseline": "middle", "fontSize": 5, "color": "#131722", "text": "TradingView"},
          "encoding": {"x": {"datum": {"year": 2024, "month": 9, "date": 4, "hours": 2, "utc": true}, "type": "temporal", "title": null}, "y": {"datum": -0.00000385, "type": "quantitative", "title": null}}
        }
      ]
    }
  ]
}
